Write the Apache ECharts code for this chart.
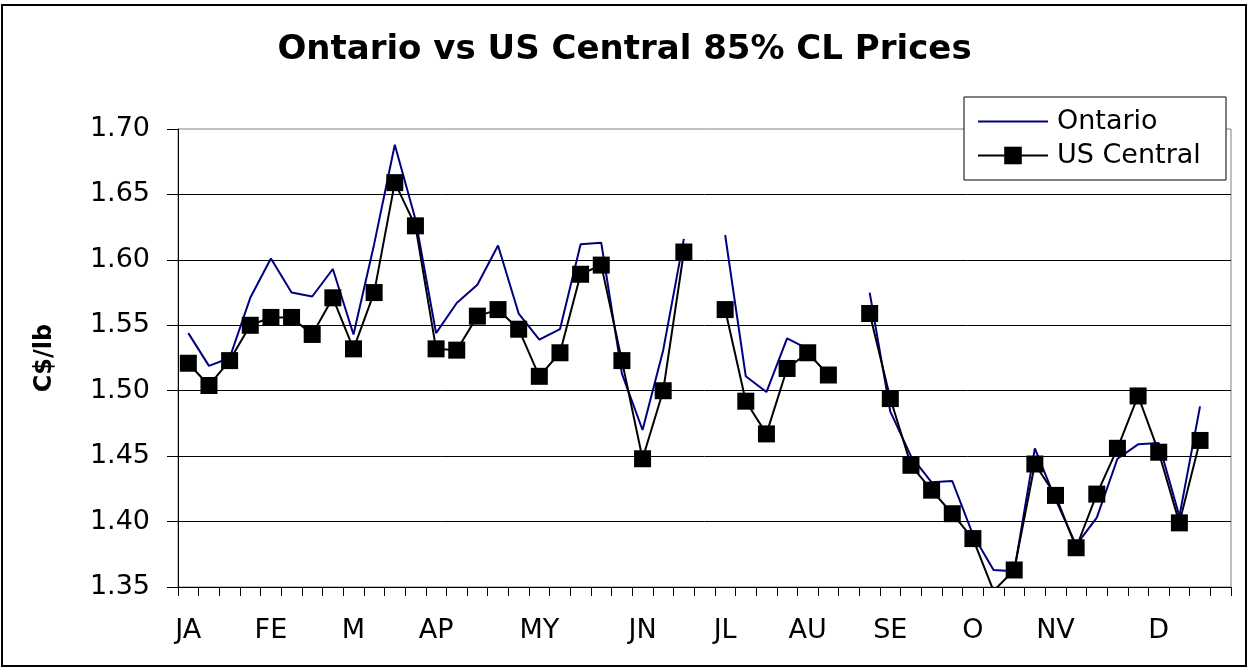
<!DOCTYPE html>
<html>
<head>
<meta charset="utf-8">
<script src="https://cdn.jsdelivr.net/npm/echarts@6/dist/echarts.min.js"></script>
<style>
html,body{margin:0;padding:0;background:#fff;}
#chart{width:1249px;height:669px;}
</style>
</head>
<body>
<div id="chart"></div>
<script>
const weekLabels = ['JA','','','','FE','','','','M','','','','AP','','','','','MY','','','','','JN','','','','JL','','','','AU','','','','SE','','','','O','','','','NV','','','','','D','','',''];

const ontario = [1.544,1.519,1.525,1.571,1.601,1.575,1.572,1.593,1.543,1.612,
  1.688,1.631,1.544,1.567,1.581,1.611,1.559,1.539,1.547,1.612,
  1.613,1.513,1.470,1.531,1.616,null,1.619,1.511,1.499,1.540,
  1.532,null,null,1.575,1.484,1.450,1.430,1.431,1.390,1.363,
  1.362,1.456,1.417,1.382,1.403,1.448,1.459,1.460,1.404,1.488,null];

const usCentral = [1.521,1.504,1.523,1.550,1.556,1.556,1.543,1.571,1.532,1.575,
  1.659,1.626,1.532,1.531,1.557,1.562,1.547,1.511,1.529,1.589,
  1.596,1.523,1.448,1.500,1.606,null,1.562,1.492,1.467,1.517,
  1.529,1.512,null,1.559,1.494,1.443,1.424,1.406,1.387,1.347,
  1.363,1.444,1.420,1.380,1.421,1.456,1.496,1.453,1.399,1.462,null];

const yMin = 1.35, yMax = 1.70, yStep = 0.05;
const FONT = 'DejaVu Sans';

const chart = echarts.init(document.getElementById('chart'), null, {renderer:'canvas'});
chart.setOption({
  animation: false,
  backgroundColor: '#ffffff',
  title: {
    text: 'Ontario vs US Central 85% CL Prices',
    left: 'center',
    top: 33,
    padding: 0,
    textStyle: {fontFamily: FONT, fontWeight: 'bold', fontSize: 34, color: '#000'}
  },
  legend: {
    orient: 'vertical',
    left: 964,
    top: 97,
    padding: [11, 10, 11, 13],
    itemWidth: 70,
    itemHeight: 22,
    itemGap: 7,
    backgroundColor: '#ffffff',
    borderColor: '#000000',
    borderWidth: 1,
    borderRadius: 0,
    textStyle: {fontFamily: FONT, fontSize: 27, color: '#000', lineHeight: 27, width: 159, padding: [0,0,0,4]},
    data: [
      {name: 'Ontario', itemStyle: {color: 'rgba(0,0,0,0)', borderWidth: 0}, lineStyle: {color: '#000080', width: 2}},
      {name: 'US Central'}
    ]
  },
  grid: {
    left: 178, right: 18, top: 129, bottom: 82,
    show: true, borderColor: '#808080', borderWidth: 1, backgroundColor: 'transparent'
  },
  xAxis: {
    type: 'category',
    data: weekLabels,
    boundaryGap: true,
    axisLine: {show: true, lineStyle: {color: '#000', width: 1}},
    axisTick: {show: true, interval: 0, length: 9, inside: false, alignWithLabel: false, lineStyle: {color: '#000', width: 1}},
    axisLabel: {interval: 0, margin: 30, fontFamily: FONT, fontSize: 27, color: '#000'},
    splitLine: {show: false}
  },
  yAxis: {
    type: 'value',
    min: yMin, max: yMax, interval: yStep,
    name: 'C$/lb',
    nameLocation: 'middle',
    nameRotate: 90,
    nameGap: 121,
    nameTextStyle: {fontFamily: FONT, fontWeight: 'bold', fontSize: 24, color: '#000'},
    axisLine: {show: true, lineStyle: {color: '#000', width: 1}},
    axisTick: {show: true, length: 11, lineStyle: {color: '#000', width: 1}},
    axisLabel: {margin: 28, fontFamily: FONT, fontSize: 27, color: '#000', formatter: v => v.toFixed(2)},
    splitLine: {show: true, showMaxLine: false, lineStyle: {color: '#000', width: 1}}
  },
  graphic: [{
    type: 'rect', silent: true, z: -1,
    shape: {x: 2, y: 5, width: 1244, height: 661},
    style: {fill: 'none', stroke: '#000', lineWidth: 2}
  }],
  series: [{
    name: 'Ontario',
    type: 'line',
    data: ontario,
    symbol: 'none',
    connectNulls: false,
    lineStyle: {color: '#000080', width: 2},
    itemStyle: {color: '#000080'}
  }, {
    name: 'US Central',
    type: 'line',
    data: usCentral,
    symbol: 'rect',
    symbolSize: 17,
    connectNulls: false,
    lineStyle: {color: '#000000', width: 2},
    itemStyle: {color: '#000000', borderWidth: 0}
  }]
});
</script>
</body>
</html>
